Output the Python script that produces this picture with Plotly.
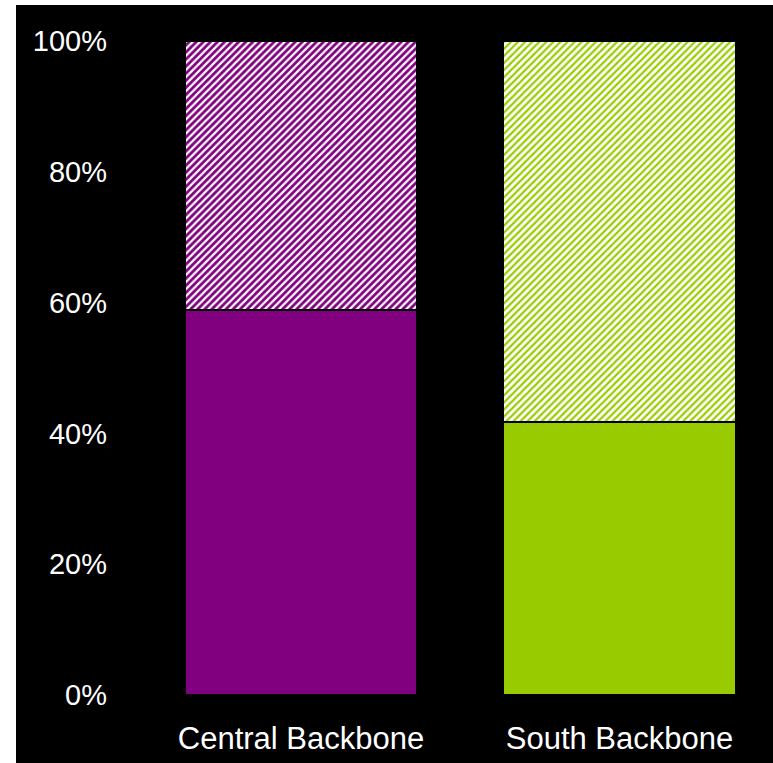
import plotly.graph_objects as go

categories = ["Central Backbone", "South Backbone"]
solid_share = [0.588, 0.418]
hatched_share = [0.412, 0.582]
solid_colors = ["#800080", "#99CC00"]
hatch_bg = ["#800080", "#FFFFFF"]
hatch_fg = ["#FFFFFF", "#99CC00"]
y_ticks = [0, 0.2, 0.4, 0.6, 0.8, 1.0]
y_ticktext = ["0%", "20%", "40%", "60%", "80%", "100%"]

W, H = 773, 763
L, R, T, B = 130, 0, 41, 68
pw, ph = W - L - R, H - T - B

fig = go.Figure()
fig.add_trace(go.Bar(
    x=categories, y=solid_share, width=0.73,
    marker=dict(color=solid_colors, line=dict(color="#000000", width=2)),
    showlegend=False,
))
for i, c in enumerate(categories):
    fig.add_trace(go.Bar(
        x=[c], y=[hatched_share[i]], width=0.73, base=[solid_share[i]],
        marker=dict(color=hatch_bg[i],
                    pattern=dict(shape="/", bgcolor=hatch_bg[i], fgcolor=hatch_fg[i],
                                 fgopacity=1, size=5, solidity=0.45),
                    line=dict(color="#000000", width=2)),
        showlegend=False,
    ))

# black canvas with thin white strip at left/top
fig.add_shape(type="rect", xref="paper", yref="paper", layer="below",
              x0=(16 - L) / pw, x1=(W - L) / pw + 0.01,
              y0=-(B) / ph - 0.01, y1=(T - 5) / ph + 1,
              fillcolor="#000000", line=dict(width=0))

fig.update_layout(
    width=W, height=H,
    margin=dict(l=L, r=R, t=T, b=B, pad=0),
    paper_bgcolor="#FFFFFF", plot_bgcolor="#000000",
    barmode="overlay", bargap=0,
    font=dict(family="Liberation Sans, Arial, sans-serif", size=29, color="#FFFFFF"),
    xaxis=dict(range=[-(301 - L) / 318.5, (W - 301) / 318.5], showgrid=False,
               zeroline=False, showline=False, ticks="", ticklabelstandoff=22,
               tickfont=dict(size=31, color="#FFFFFF")),
    yaxis=dict(range=[0, 1], tickvals=y_ticks, ticktext=y_ticktext, showgrid=False,
               zeroline=False, showline=False, ticks="", ticklabelstandoff=22,
               tickfont=dict(size=29, color="#FFFFFF")),
)
fig.write_html("out.html")
